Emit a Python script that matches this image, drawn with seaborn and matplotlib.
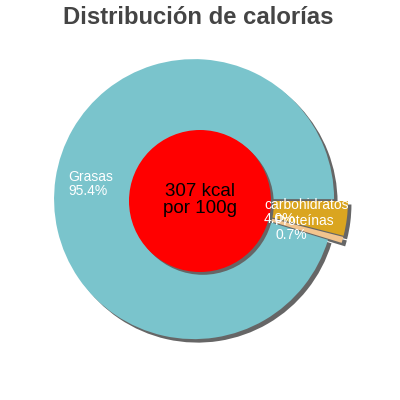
import matplotlib
matplotlib.use("Agg")
import matplotlib.pyplot as plt
import matplotlib.patches as mpatches
import seaborn as sns

sns.set_theme(style="white")
plt.rcParams['font.family'] = ['Liberation Sans', 'DejaVu Sans']

# ---- data ----
categories = ["carbohidratos", "Proteínas", "Grasas"]
percents = [4.0, 0.7, 95.4]
colors = ["#DAA520", "#F2C48E", "#7AC4CC"]
explode = [8, 8, 6]
title = "Distribución de calorías"
center_text = "307 kcal\npor 100g"
# label anchor positions (layout, data coords relative to pie centre)
label_pos = [(64, -12), (75, -28), (-132, 16)]

fig = plt.figure(figsize=(4, 4), dpi=100)
ax = fig.add_axes([0, 0, 1, 1])

wedges, _ = ax.pie(percents, colors=colors, explode=explode, radius=140,
                   center=(0, 0), startangle=0, counterclock=False,
                   wedgeprops=dict(linewidth=0), frame=True)
ax.set_xlim(-200, 200)
ax.set_ylim(-200, 200)
ax.set_aspect("equal")
ax.axis("off")

shadow_off = (3.5, -3.5)
shadow_col = "#666666"
for w in wedges:
    w.set_zorder(2)
    cx, cy = w.center
    s = mpatches.Wedge((cx + shadow_off[0], cy + shadow_off[1]), w.r,
                       w.theta1, w.theta2, facecolor=shadow_col,
                       edgecolor="none", zorder=1)
    ax.add_patch(s)

ax.add_patch(mpatches.Circle((shadow_off[0] * 0.8, -1 + shadow_off[1] * 0.8), 71,
                             facecolor=shadow_col, edgecolor="none", zorder=3))
ax.add_patch(mpatches.Circle((0, -1), 71, facecolor="#FF0000",
                             edgecolor="none", zorder=4))
ax.text(0, 0, center_text, ha="center", va="center", fontsize=13.5,
        color="black", linespacing=1.05, zorder=5)

for cat, p, (lx, ly) in zip(categories, percents, label_pos):
    ax.text(lx, ly, f"{cat}\n{p:.1f}%", ha="left", va="center",
            fontsize=10, color="white", linespacing=0.92, zorder=6)

ax.text(-2, 182, title, ha="center", va="center", fontsize=17.2,
        fontweight="bold", color="#444444", zorder=6)

fig.savefig("out.png", dpi=100)
